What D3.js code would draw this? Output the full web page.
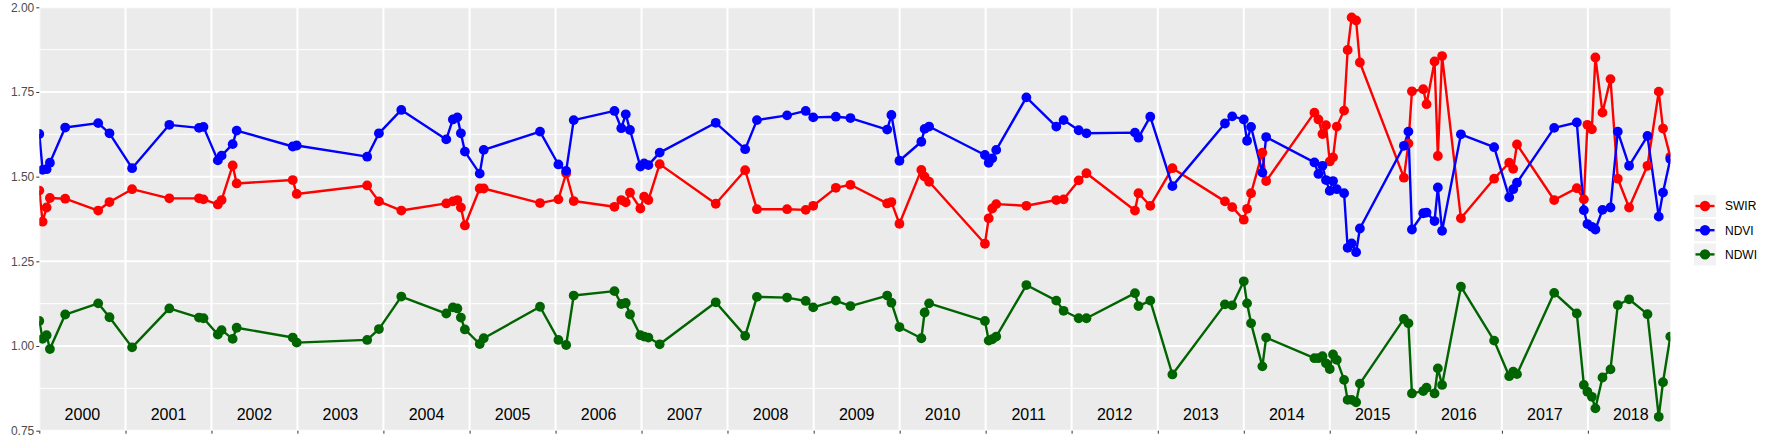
<!DOCTYPE html>
<html>
<head>
<meta charset="utf-8">
<script src="https://cdn.jsdelivr.net/npm/d3@7"></script>
<style>
  html, body { margin: 0; padding: 0; background: #fff; }
  svg { display: block; }
  text { font-family: "Liberation Sans", Arial, Helvetica, sans-serif; }
</style>
</head>
<body>
<svg id="chart" width="1773" height="442"></svg>
<script>
// ---------------- data ----------------
const dates = [
"2000-01-01","2000-01-15","2000-02-01","2000-02-15","2000-04-20","2000-09-07","2000-10-25",
"2001-01-29","2001-07-06","2001-11-09","2001-11-28",
"2002-01-28","2002-02-13","2002-04-01","2002-04-18","2002-12-12","2002-12-29",
"2003-10-24","2003-12-13",
"2004-03-17","2004-09-24","2004-10-22","2004-11-10","2004-11-25","2004-12-12",
"2005-02-13","2005-03-02","2005-10-27",
"2006-01-13","2006-02-15","2006-03-19","2006-09-08","2006-10-07","2006-10-26","2006-11-13","2006-12-27",
"2007-01-12","2007-01-30","2007-03-19","2007-11-12",
"2008-03-16","2008-05-05","2008-09-10","2008-11-28","2008-12-30",
"2009-04-05","2009-06-06","2009-11-09","2009-11-27","2009-12-31",
"2010-04-03","2010-04-17","2010-05-06","2010-12-29",
"2011-01-14","2011-01-29","2011-02-15","2011-06-23","2011-10-28","2011-11-28",
"2012-01-31","2012-03-04","2012-09-26","2012-10-11","2012-11-30",
"2013-03-04","2013-10-13","2013-11-13",
"2014-01-01","2014-01-15","2014-02-01","2014-03-21","2014-04-06","2014-10-28","2014-11-14","2014-12-01","2014-12-16",
"2015-01-01","2015-01-15","2015-01-31","2015-03-03","2015-03-18","2015-04-04","2015-04-23","2015-05-09","2015-11-12","2015-12-01","2015-12-16",
"2016-02-02","2016-02-16","2016-03-21","2016-04-04","2016-04-22","2016-07-11","2016-11-29",
"2017-02-01","2017-02-18","2017-03-06","2017-08-11","2017-11-15","2017-12-15","2017-12-30",
"2018-01-18","2018-02-02","2018-03-04","2018-04-07","2018-05-08","2018-06-25","2018-09-11","2018-10-29","2018-11-16","2018-12-17"
];

const swir = [
1.459,1.367,1.409,1.437,1.435,1.400,1.425,
1.463,1.436,1.436,1.433,
1.418,1.431,1.533,1.480,1.490,1.449,
1.474,1.427,
1.400,1.421,1.427,1.431,1.409,1.356,
1.465,1.465,1.422,
1.433,1.510,1.428,1.411,1.431,1.424,1.453,1.406,
1.441,1.431,1.537,1.420,
1.519,1.404,1.404,1.402,1.414,
1.467,1.476,1.421,1.425,1.361,
1.520,1.500,1.485,1.302,
1.377,1.406,1.419,1.414,1.431,1.433,
1.489,1.510,1.400,1.451,1.414,
1.525,1.427,1.410,
1.373,1.405,1.451,1.571,1.487,1.689,1.669,1.626,1.652,
1.545,1.557,1.648,1.695,1.874,1.970,1.961,1.837,1.497,1.598,1.752,
1.758,1.714,1.840,1.561,1.856,1.377,1.494,
1.541,1.523,1.595,1.431,1.466,1.433,1.653,
1.640,1.852,1.689,1.788,1.494,1.409,1.532,1.751,1.642,1.559
];

const ndvi = [
1.626,1.520,1.522,1.541,1.645,1.658,1.628,
1.525,1.653,1.644,1.647,
1.548,1.562,1.596,1.636,1.589,1.592,
1.559,1.628,
1.697,1.610,1.669,1.675,1.628,1.574,
1.509,1.579,1.633,
1.536,1.517,1.667,1.694,1.643,1.684,1.638,1.530,
1.539,1.534,1.571,1.659,
1.581,1.667,1.681,1.694,1.675,
1.677,1.673,1.639,1.682,1.547,
1.603,1.641,1.648,1.564,
1.541,1.554,1.579,1.734,1.648,1.667,
1.637,1.628,1.630,1.615,1.677,
1.472,1.657,1.678,
1.669,1.606,1.647,1.512,1.617,1.542,1.508,1.532,1.490,
1.458,1.487,1.463,1.451,1.290,1.303,1.277,1.347,1.591,1.633,1.344,
1.392,1.394,1.369,1.468,1.340,1.625,1.587,
1.439,1.463,1.482,1.644,1.660,1.401,1.360,
1.352,1.344,1.402,1.409,1.633,1.532,1.620,1.382,1.453,1.552
];

const ndwi = [
1.074,1.021,1.032,0.991,1.093,1.126,1.085,
0.996,1.111,1.084,1.082,
1.034,1.047,1.021,1.054,1.025,1.010,
1.018,1.050,
1.146,1.096,1.114,1.111,1.084,1.049,
1.006,1.023,1.116,
1.018,1.003,1.149,1.162,1.124,1.127,1.093,1.032,
1.028,1.025,1.005,1.129,
1.030,1.145,1.143,1.133,1.114,
1.134,1.118,1.149,1.128,1.056,
1.023,1.099,1.126,1.074,
1.016,1.020,1.028,1.180,1.134,1.104,
1.082,1.082,1.156,1.118,1.134,
0.916,1.123,1.120,
1.191,1.126,1.067,0.940,1.025,0.964,0.964,0.970,0.949,
0.932,0.975,0.959,0.900,0.841,0.841,0.834,0.889,1.080,1.067,0.860,
0.867,0.877,0.860,0.934,0.885,1.175,1.016,
0.911,0.924,0.917,1.157,1.096,0.885,0.865,
0.850,0.816,0.907,0.931,1.121,1.138,1.094,0.791,0.893,1.028
];

const seriesNames = ["SWIR", "NDVI", "NDWI"];
const seriesColors = ["#FF0000", "#0000FF", "#006400"];
const yTicks = [0.75, 1.00, 1.25, 1.50, 1.75, 2.00];
const yMinorTicks = [0.875, 1.125, 1.375, 1.625, 1.875];
const yearLabels = ["2000","2001","2002","2003","2004","2005","2006","2007","2008","2009",
                    "2010","2011","2012","2013","2014","2015","2016","2017","2018"];
const yearLabelLevel = 0.8;

// ---------------- layout ----------------
const W = 1773, H = 442;
const panel = { left: 39.3, right: 1670.3, top: 7.3, bottom: 430.7 };

const parse = d3.utcParse("%Y-%m-%d");
const dateObjs = dates.map(parse);
const values = [swir, ndvi, ndwi];

const x = d3.scaleUtc()
  .domain([dateObjs[0], dateObjs[dateObjs.length - 1]])
  .range([panel.left, panel.right]);
const y = d3.scaleLinear()
  .domain([0.75, 2.0])
  .range([panel.bottom, panel.top]);

const yearStarts = yearLabels.map(s => parse(s + "-01-01"));
const yearMids = yearLabels.map(s => new Date((parse(s + "-01-01").getTime() + parse((+s + 1) + "-01-01").getTime()) / 2));

const svg = d3.select("#chart");
svg.append("rect").attr("width", W).attr("height", H).attr("fill", "#fff");

// panel background
svg.append("rect")
  .attr("x", panel.left).attr("y", panel.top)
  .attr("width", panel.right - panel.left).attr("height", panel.bottom - panel.top)
  .attr("fill", "#EBEBEB");

svg.append("defs").append("clipPath").attr("id", "clip")
  .append("rect")
  .attr("x", panel.left).attr("y", panel.top)
  .attr("width", panel.right - panel.left).attr("height", panel.bottom - panel.top);

const grid = svg.append("g").attr("clip-path", "url(#clip)");
grid.selectAll("line.minor").data(yMinorTicks).enter().append("line")
  .attr("x1", panel.left).attr("x2", panel.right)
  .attr("y1", d => y(d)).attr("y2", d => y(d))
  .attr("stroke", "#fff").attr("stroke-width", 1);
grid.selectAll("line.major").data(yTicks).enter().append("line")
  .attr("x1", panel.left).attr("x2", panel.right)
  .attr("y1", d => y(d)).attr("y2", d => y(d))
  .attr("stroke", "#fff").attr("stroke-width", 2);
grid.selectAll("line.vmajor").data(yearStarts).enter().append("line")
  .attr("x1", d => x(d)).attr("x2", d => x(d))
  .attr("y1", panel.top).attr("y2", panel.bottom)
  .attr("stroke", "#fff").attr("stroke-width", 2);

// year annotations inside panel
grid.selectAll("text.year").data(yearLabels).enter().append("text")
  .attr("x", (d, i) => x(yearMids[i]))
  .attr("y", y(yearLabelLevel) + 5.8)
  .attr("text-anchor", "middle")
  .attr("font-size", 16)
  .attr("fill", "#000")
  .text(d => d);

// lines and points
const plot = svg.append("g").attr("clip-path", "url(#clip)");
const line = d3.line().x(d => x(d[0])).y(d => y(d[1]));
values.forEach((vals, si) => {
  const pts = dateObjs.map((d, i) => [d, vals[i]]);
  plot.append("path").datum(pts)
    .attr("d", line)
    .attr("fill", "none")
    .attr("stroke", seriesColors[si])
    .attr("stroke-width", 2.4)
    .attr("stroke-linejoin", "round");
});
values.forEach((vals, si) => {
  const pts = dateObjs.map((d, i) => [d, vals[i]]);
  plot.append("g").selectAll("circle").data(pts).enter().append("circle")
    .attr("cx", d => x(d[0])).attr("cy", d => y(d[1]))
    .attr("r", 4.9)
    .attr("fill", seriesColors[si]);
});

// axes
const yAxis = svg.append("g")
  .attr("transform", `translate(${panel.left},0)`)
  .call(d3.axisLeft(y).tickValues(yTicks).tickFormat(d3.format(".2f")).tickSize(3).tickPadding(2));
yAxis.select(".domain").remove();
yAxis.selectAll(".tick line").attr("stroke", "#333333");
yAxis.selectAll(".tick text").attr("fill", "#4D4D4D").attr("font-size", 12)
  .attr("font-family", "'Liberation Sans', Arial, sans-serif");

const xAxis = svg.append("g")
  .attr("transform", `translate(0,${panel.bottom})`)
  .call(d3.axisBottom(x).tickValues(yearStarts).tickFormat("").tickSize(3));
xAxis.select(".domain").remove();
xAxis.selectAll(".tick line").attr("stroke", "#333333");

// legend
const legend = svg.append("g");
const keyX = 1694, keyW = 22, keyTop = 195, keyStep = 24.2;
seriesNames.forEach((name, i) => {
  const ky = keyTop + i * keyStep;
  const cy = ky + keyW / 2;
  legend.append("rect").attr("x", keyX).attr("y", ky).attr("width", keyW).attr("height", keyW)
    .attr("fill", "#F2F2F2");
  legend.append("line").attr("x1", keyX + 1.5).attr("x2", keyX + keyW - 1.5)
    .attr("y1", cy).attr("y2", cy)
    .attr("stroke", seriesColors[i]).attr("stroke-width", 2.4);
  legend.append("circle").attr("cx", keyX + keyW / 2).attr("cy", cy).attr("r", 5.2)
    .attr("fill", seriesColors[i]);
  legend.append("text").attr("x", 1725).attr("y", cy).attr("dy", "0.36em")
    .attr("font-size", 12).attr("fill", "#000").text(name);
});
</script>
</body>
</html>
